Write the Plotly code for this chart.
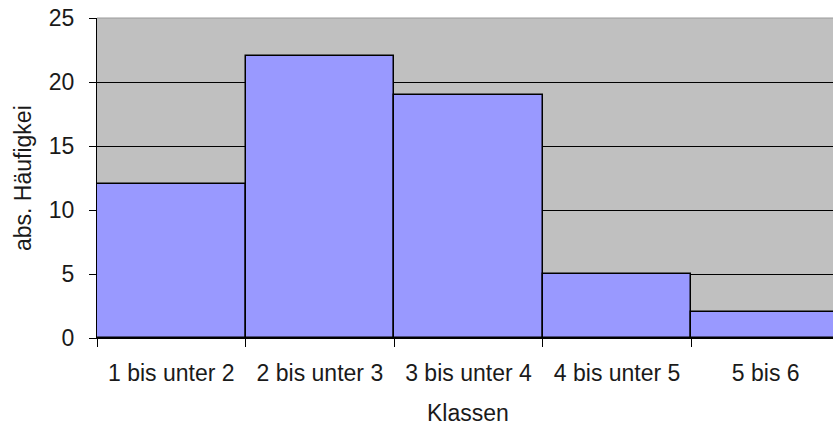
import plotly.graph_objects as go

# Klassenhäufigkeiten
klassen = ["1 bis unter 2", "2 bis unter 3", "3 bis unter 4", "4 bis unter 5", "5 bis 6"]
haeufigkeit = [12, 22, 19, 5, 2]
y_ticks = [0, 5, 10, 15, 20, 25]
y_grid = [5, 10, 15, 20]

centers = [i + 0.5 for i in range(len(klassen))]
edges = list(range(len(klassen)))

font = dict(family="Liberation Sans, Arial, sans-serif", size=23, color="#1a1a1a")

plot_w = 833 - 97
plot_h = 428 - 18 - 90

fig = go.Figure()
fig.add_trace(go.Bar(
    x=centers,
    y=haeufigkeit,
    width=1,
    marker=dict(color="#9999FF", line=dict(color="#000000", width=1.5)),
    hoverinfo="skip",
))

fig.update_layout(
    width=833,
    height=428,
    margin=dict(l=97, r=0, t=18, b=90),
    paper_bgcolor="#FFFFFF",
    plot_bgcolor="#C0C0C0",
    showlegend=False,
    font=font,
    bargap=0,
)

fig.update_xaxes(
    range=[0, 4.953],
    tickmode="array",
    tickvals=centers,
    ticktext=klassen,
    ticks="",
    ticklabelstandoff=14,
    showgrid=False,
    showline=True,
    linecolor="#000000",
    linewidth=1,
    zeroline=False,
    minor=dict(tickmode="array", tickvals=edges, ticks="outside", ticklen=8,
               tickcolor="#000000", tickwidth=1, showgrid=False),
    tickfont=font,
)

fig.update_yaxes(
    range=[0, 25],
    tickmode="array",
    tickvals=y_ticks,
    ticks="outside",
    ticklen=7,
    tickcolor="#000000",
    ticklabelstandoff=10,
    showgrid=False,
    showline=True,
    linecolor="#000000",
    linewidth=1,
    zeroline=False,
    minor=dict(tickmode="array", tickvals=y_grid, ticks="", showgrid=True,
               gridcolor="#000000", gridwidth=1),
    tickfont=font,
)

# thin darker edge along the top of the plot area
fig.add_shape(type="line", xref="paper", yref="paper", x0=0, x1=1, y0=1, y1=1,
              line=dict(color="#9a9a9a", width=1))

fig.add_annotation(
    text="abs. Häufigkei", textangle=-90, xref="paper", x=(23 - 97) / plot_w,
    yref="paper", y=0.5, showarrow=False, font=font,
    xanchor="center", yanchor="middle",
)

fig.add_annotation(
    text="Klassen", x=2.5, xref="x", y=-75 / plot_h, yref="paper",
    showarrow=False, font=font, yanchor="middle",
)

fig.write_html("out.html")
